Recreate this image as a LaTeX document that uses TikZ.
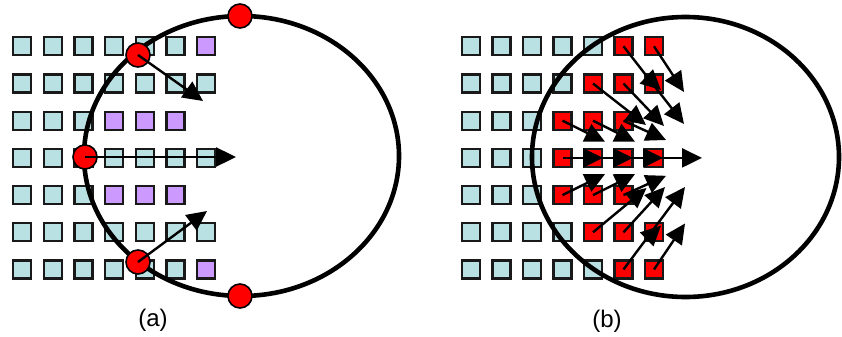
\documentclass[tikz,border=0pt]{standalone}
\usepackage{fontspec}
\newfontfamily\arial{Liberation Sans}
\usepackage{tikz}
\usetikzlibrary{arrows.meta}
\definecolor{pale}{RGB}{185,224,226}
\definecolor{lilac}{RGB}{204,153,255}
\definecolor{hot}{RGB}{255,0,0}
\tikzset{
  px/.style   ={rectangle, draw=black!90, line width=1.1pt, minimum size=9pt, inner sep=0pt},
  cell0/.style={px, fill=pale},
  cell1/.style={px, fill=hot},
  cell2/.style={px, fill=lilac},
  ring/.style ={draw=black, line width=2.3pt},
  dot/.style  ={circle, draw=black, line width=0.8pt, fill=hot, minimum size=12pt, inner sep=0pt},
  fl/.style   ={-{Triangle[length=10pt, width=9.5pt]}, line width=1.2pt},
  lbl/.style  ={font=\arial\fontsize{12}{14}\selectfont, inner sep=0pt},
}
\begin{document}
\begin{tikzpicture}[x=0.5pt, y=-0.5pt]
  \useasboundingbox (0,0) rectangle (842,337);
  % (a) pixel grid
  \foreach \row [count=\j from 0] in {{0,0,0,0,0,0,2},{0,0,0,0,0,0,0},{0,0,0,2,2,2},
      {0,0,0,0,0,0,0},{0,0,0,2,2,2},{0,0,0,0,0,0,0},{0,0,0,0,0,0,2}}
    \foreach \c [count=\i from 0] in \row
      \node[cell\c] (a-\i-\j) at ({22+30.7*\i},{46.3+37.2*\j}) {};
  % (b) pixel grid
  \foreach \row [count=\j from 0] in {{0,0,0,0,0,1,1},{0,0,0,0,1,1,1},{0,0,0,1,1,1},
      {0,0,0,1,1,1,1},{0,0,0,1,1,1},{0,0,0,0,1,1,1},{0,0,0,0,0,1,1}}
    \foreach \c [count=\i from 0] in \row
      \node[cell\c] (b-\i-\j) at ({471+30.5*\i},{46.3+37.2*\j}) {};
  % rings
  \draw[ring] (241.5,156) ellipse [x radius=157.5, y radius=140];
  \draw[ring] (685.5,157) ellipse [x radius=153.5, y radius=140];
  % (a) samples on the ring
  \node[dot] (pa-top) at (240,16) {};
  \node[dot] (pa-up)  at (138,55) {};
  \node[dot] (pa-mid) at (85,157) {};
  \node[dot] (pa-low) at (138,262) {};
  \node[dot] (pa-bot) at (240,296) {};
  \coordinate (ta-up)  at (203,101);
  \coordinate (ta-mid) at (236,157);
  \coordinate (ta-low) at (207,211);
  \draw[fl] (pa-up.center) -- (ta-up);
  \draw[fl] (pa-mid.center) -- (ta-mid);
  \draw[fl] (pa-low.center) -- (ta-low);
  % (b) arrows from the red pixels
  \foreach \i/\j/\x/\y in {5/0/684/124, 6/0/684/92, 4/1/646/125, 5/1/664/126, 6/1/661/90,
      3/2/605/141.7, 4/2/635/141.7, 5/2/666/140,
      3/3/603/157.9, 4/3/633/157.9, 5/3/663/157.9, 6/3/702/157.9,
      3/4/605/174.1, 4/4/635/174.1, 5/4/666/175.8,
      4/5/646.5/188, 5/5/665/187, 6/5/661/225.5, 5/6/685/187, 6/6/685/223.5} {
    \coordinate (tb-\i-\j) at (\x,\y);
    \draw[fl] (b-\i-\j.center) -- (tb-\i-\j);
  }
  % captions
  \node[lbl] (lbl-a) at (153,320) {(a)};
  \node[lbl] (lbl-b) at (607,321) {(b)};
\end{tikzpicture}
\end{document}
